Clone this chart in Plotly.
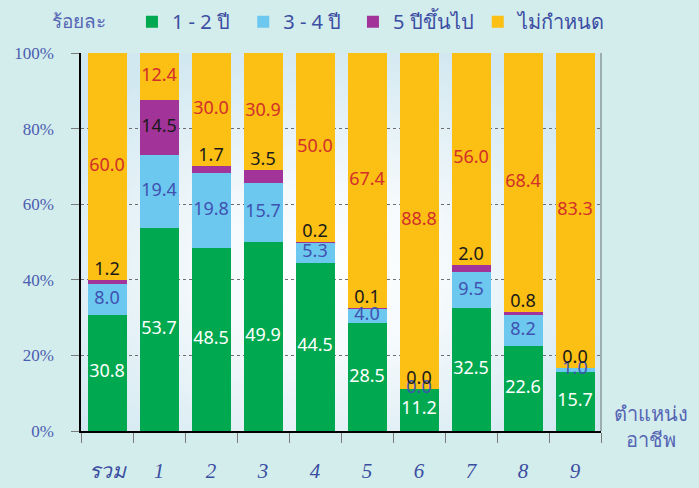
import base64
import plotly.graph_objects as go

categories = ["รวม", "1", "2", "3", "4", "5", "6", "7", "8", "9"]
series_names = ["1 - 2 ปี", "3 - 4 ปี", "5 ปีขึ้นไป", "ไม่กำหนด"]
yr_1_2 = [30.8, 53.7, 48.5, 49.9, 44.5, 28.5, 11.2, 32.5, 22.6, 15.7]
yr_3_4 = [8.0, 19.4, 19.8, 15.7, 5.3, 4.0, 0.0, 9.5, 8.2, 1.0]
yr_5_up = [1.2, 14.5, 1.7, 3.5, 0.2, 0.1, 0.0, 2.0, 0.8, 0.0]
yr_none = [60.0, 12.4, 30.0, 30.9, 50.0, 67.4, 88.8, 56.0, 68.4, 83.3]
y_ticks = [0, 20, 40, 60, 80, 100]
y_tick_labels = [f"{v}%" for v in y_ticks]

series = [yr_1_2, yr_3_4, yr_5_up, yr_none]
bar_colors = ["#00a94f", "#6cc8ef", "#a23399", "#fcbf14"]
label_colors = ["#ffffff", "#3f52b0", "#1a1a1a", "#d2302a"]
legend_ids = ["legend", "legend2", "legend3", "legend4"]
legend_x = [0.098, 0.312, 0.523, 0.763]

fig = go.Figure()
for name, vals, col, lid in zip(series_names, series, bar_colors, legend_ids):
    fig.add_trace(go.Bar(x=categories, y=vals, name=name, legend=lid,
                         marker=dict(color=col, line=dict(width=0)), hoverinfo="x+y+name"))

# labels
base = [0.0] * len(categories)
for i, (vals, lc) in enumerate(zip(series, label_colors)):
    ys = []
    for j, v in enumerate(vals):
        bottom = base[j]
        top = bottom + v
        if i == 2 and v < 5:
            ys.append(top + 2.5)
        else:
            ys.append(bottom + v / 2)
        base[j] = top
    fig.add_trace(go.Scatter(x=categories, y=ys, mode="text", text=[f"{v:.1f}" for v in vals],
                             textfont=dict(family="Noto Sans", size=18, color=lc),
                             showlegend=False, hoverinfo="skip"))

svg = ("<svg xmlns='http://www.w3.org/2000/svg' width='520' height='378' preserveAspectRatio='none'>"
       "<defs><radialGradient id='g' cx='0.47' cy='0.58' r='0.62'>"
       "<stop offset='0' stop-color='#ffffff'/><stop offset='0.35' stop-color='#f6fafc'/>"
       "<stop offset='1' stop-color='#d2e8f1'/></radialGradient></defs>"
       "<rect width='520' height='378' fill='url(#g)'/></svg>")
src = "data:image/svg+xml;base64," + base64.b64encode(svg.encode()).decode()

legend_style = dict(orientation="h", y=1.083, xanchor="left", yanchor="middle",
                    bgcolor="rgba(0,0,0,0)", font=dict(family="Noto Sans", size=20, color="#3b4ea3"),
                    itemwidth=30)
legends = {lid: dict(legend_style, x=lx) for lid, lx in zip(legend_ids, legend_x)}

fig.update_layout(
    width=699, height=488,
    margin=dict(l=81, r=98, t=53, b=57, autoexpand=False),
    paper_bgcolor="#d3ecec", plot_bgcolor="#eef6f9",
    barmode="stack", bargap=0.25,
    images=[dict(source=src, xref="paper", yref="paper", x=0, y=1, sizex=1, sizey=1,
                 sizing="stretch", layer="below")],
    showlegend=True,
    xaxis=dict(showline=True, linecolor="#000000", linewidth=1.5, ticks="outside", ticklen=10,
               tickcolor="#7a7a7a", tickson="boundaries", ticklabelstandoff=20, automargin=False,
               tickfont=dict(family="Liberation Serif", size=21, color="#3a4ea0", style="italic"),
               showgrid=False, fixedrange=True),
    yaxis=dict(range=[0, 100], tickvals=y_ticks, ticktext=y_tick_labels, showline=True,
               linecolor="#000000", automargin=False, ticklabelstandoff=14,
               linewidth=1.5, ticks="outside", ticklen=8, tickcolor="#7a7a7a",
               tickfont=dict(family="Liberation Serif", size=17, color="#4b5db0"),
               showgrid=True, gridcolor="#6f6f6f", gridwidth=1, griddash="dot",
               zeroline=False, fixedrange=True),
    shapes=[dict(type="line", xref="paper", yref="paper", x0=1, x1=1, y0=0, y1=1,
                 line=dict(color="#8a9a9a", width=1.5))],
    annotations=[
        dict(text="ร้อยละ", xref="paper", yref="paper", x=0.052, y=1.085, xanchor="right",
             yanchor="middle", showarrow=False, font=dict(family="Noto Sans", size=19, color="#5566b4")),
        dict(text="ตำแหน่ง<br>อาชีพ", xref="paper", yref="paper", x=1.097, y=0.013, xanchor="center",
             yanchor="middle", showarrow=False, align="center",
             font=dict(family="Noto Sans", size=20, color="#5566b4")),
    ],
    **legends,
)

fig.write_html("out.html", config={"displayModeBar": False},
               post_script="document.body.style.margin='0';document.body.style.overflow='hidden';")
